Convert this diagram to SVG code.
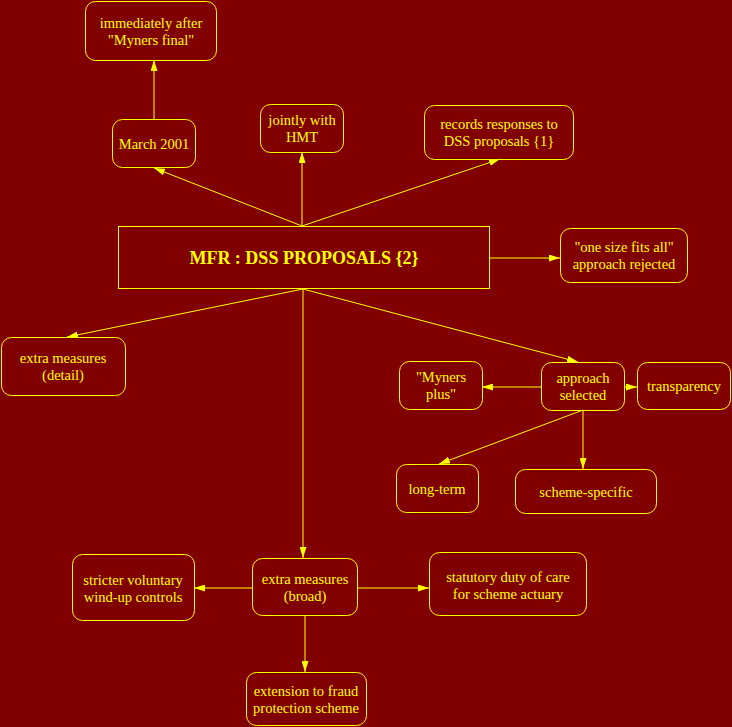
<svg xmlns="http://www.w3.org/2000/svg" width="732" height="727" viewBox="0 0 732 727">
<style>
.n rect{fill:none;stroke:#ffff00;stroke-width:1}
.n text{fill:#ffff00;font-family:"Liberation Serif","Times New Roman",serif;font-size:14.5px;text-anchor:middle}
.n text.t{font-size:18px;font-weight:bold}
#edges line{stroke:#ffff00;stroke-width:1;marker-end:url(#a)}
</style>
<defs>
<marker id="a" markerWidth="11" markerHeight="7" refX="11" refY="3.5" orient="auto" markerUnits="userSpaceOnUse">
<path d="M0,0 L11,3.5 L0,7 z" fill="#ffff00"/>
</marker>
</defs>
<rect width="732" height="727" fill="#800000"/>
<g id="edges">
<line x1="154" y1="119" x2="154" y2="60"/>
<line x1="302" y1="226" x2="154" y2="168"/>
<line x1="302" y1="226" x2="302" y2="152"/>
<line x1="302" y1="226" x2="500" y2="159"/>
<line x1="490" y1="258" x2="560" y2="258"/>
<line x1="303" y1="289" x2="67" y2="337"/>
<line x1="303" y1="289" x2="578" y2="362"/>
<line x1="303" y1="289" x2="303" y2="558"/>
<line x1="541" y1="387" x2="482" y2="387"/>
<line x1="624" y1="387" x2="637" y2="387"/>
<line x1="583" y1="410" x2="439" y2="464"/>
<line x1="583" y1="410" x2="583" y2="469"/>
<line x1="252" y1="588" x2="194" y2="588"/>
<line x1="357" y1="588" x2="429" y2="588"/>
<line x1="305" y1="615" x2="305" y2="672"/>
</g>
<g id="n_immediately" class="n"><rect x="85.5" y="1.5" width="131" height="59" rx="10"/><text x="151" y="28">immediately after</text><text x="151" y="45">"Myners final"</text></g>
<g id="n_march" class="n"><rect x="112.5" y="119.5" width="83" height="48" rx="10"/><text x="154" y="149">March 2001</text></g>
<g id="n_jointly" class="n"><rect x="260.5" y="104.5" width="83" height="48" rx="10"/><text x="302" y="125">jointly with</text><text x="302" y="142">HMT</text></g>
<g id="n_records" class="n"><rect x="424.5" y="105.5" width="149" height="54" rx="10"/><text x="499" y="129">records responses to</text><text x="499" y="146">DSS proposals {1}</text></g>
<g id="n_onesize" class="n"><rect x="560.5" y="228.5" width="127" height="54" rx="10"/><text x="624" y="252">"one size fits all"</text><text x="624" y="269">approach rejected</text></g>
<g id="n_main" class="n"><rect x="118.5" y="226.5" width="371" height="62"/><text class="t" x="304" y="264">MFR : DSS PROPOSALS {2}</text></g>
<g id="n_detail" class="n"><rect x="1.5" y="337.5" width="124" height="58" rx="10"/><text x="63" y="363">extra measures</text><text x="63" y="380">(detail)</text></g>
<g id="n_mynersplus" class="n"><rect x="399.5" y="361.5" width="83" height="48" rx="10"/><text x="441" y="382">"Myners</text><text x="441" y="399">plus"</text></g>
<g id="n_approach" class="n"><rect x="541.5" y="362.5" width="83" height="48" rx="10"/><text x="583" y="383">approach</text><text x="583" y="400">selected</text></g>
<g id="n_transparency" class="n"><rect x="637.5" y="362.5" width="93" height="47" rx="10"/><text x="684" y="391">transparency</text></g>
<g id="n_longterm" class="n"><rect x="396.5" y="464.5" width="82" height="48" rx="10"/><text x="437" y="494">long-term</text></g>
<g id="n_scheme" class="n"><rect x="515.5" y="469.5" width="141" height="44" rx="10"/><text x="586" y="497">scheme-specific</text></g>
<g id="n_stricter" class="n"><rect x="72.5" y="554.5" width="122" height="66" rx="10"/><text x="133" y="585">stricter voluntary</text><text x="133" y="602">wind-up controls</text></g>
<g id="n_broad" class="n"><rect x="252.5" y="558.5" width="105" height="57" rx="10"/><text x="305" y="584">extra measures</text><text x="305" y="601">(broad)</text></g>
<g id="n_statutory" class="n"><rect x="429.5" y="552.5" width="157" height="63" rx="10"/><text x="508" y="582">statutory duty of care</text><text x="508" y="599">for scheme actuary</text></g>
<g id="n_extension" class="n"><rect x="246.5" y="672.5" width="120" height="53" rx="10"/><text x="306" y="696">extension to fraud</text><text x="306" y="713">protection scheme</text></g>
</svg>
